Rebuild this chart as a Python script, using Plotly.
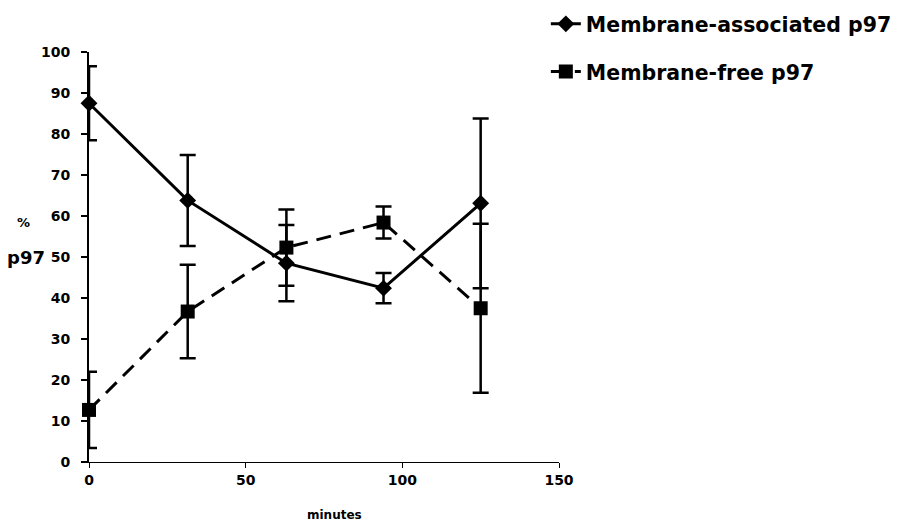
import plotly.graph_objects as go

minutes = [0, 31.5, 63, 94, 125]
assoc = [87.5, 63.8, 48.5, 42.4, 63.1]
assoc_err = [9.0, 11.1, 9.3, 3.7, 20.7]
free = [12.7, 36.7, 52.3, 58.4, 37.5]
free_err = [9.3, 11.4, 9.3, 3.9, 20.6]

x_ticks = [0, 50, 100, 150]
y_ticks = list(range(0, 101, 10))

FONT = "DejaVu Sans"

fig = go.Figure()
fig.add_trace(go.Scatter(
    x=minutes, y=assoc, name="Membrane-associated p97",
    mode="lines+markers", legendgroup="a",
    line=dict(color="black", width=3),
    marker=dict(symbol="diamond", size=13, color="black"),
    error_y=dict(type="data", array=assoc_err, color="black", thickness=2.5, width=8),
    cliponaxis=False,
))
fig.add_trace(go.Scatter(
    x=minutes, y=free, name="Membrane-free p97",
    mode="lines+markers", legendgroup="b",
    line=dict(color="black", width=3, dash="15px,9px"),
    marker=dict(symbol="square", size=14, color="black"),
    error_y=dict(type="data", array=free_err, color="black", thickness=2.5, width=8),
    cliponaxis=False,
))

# the page body adds an 8px offset, so the figure is 895x523
fig.update_layout(
    width=895, height=523,
    margin=dict(l=81, r=344, t=44, b=69, autoexpand=False),
    paper_bgcolor="white", plot_bgcolor="white",
    font=dict(family=FONT, color="black"),
    showlegend=True,
    legend=dict(
        x=0.972, xanchor="left", y=1.117, yanchor="top",
        font=dict(family=FONT, size=20.5, color="black", weight="bold"),
        traceorder="grouped", tracegroupgap=18,
        bgcolor="rgba(0,0,0,0)",
    ),
    xaxis=dict(
        range=[0, 150], tickvals=x_ticks, ticktext=[str(v) for v in x_ticks],
        showgrid=False, zeroline=False, showline=True, linecolor="black", linewidth=1,
        ticks="outside", ticklen=5, tickwidth=1, tickcolor="black",
        tickfont=dict(family=FONT, size=14, weight="bold"),
        ticklabelstandoff=0, automargin=False,
    ),
    xaxis2=dict(
        range=[0, 150], overlaying="x", tickvals=x_ticks, showticklabels=False,
        showgrid=False, zeroline=False, showline=False,
        ticks="inside", ticklen=6, tickwidth=1, tickcolor="black",
    ),
    yaxis=dict(
        range=[0, 100], tickvals=y_ticks, ticktext=[str(v) for v in y_ticks],
        showgrid=False, zeroline=False, showline=True, linecolor="black", linewidth=2,
        ticks="outside", ticklen=6, tickwidth=1.5, tickcolor="black",
        tickfont=dict(family=FONT, size=14, weight="bold"),
        ticklabelstandoff=8, automargin=False,
    ),
    yaxis2=dict(
        range=[0, 100], overlaying="y", tickvals=y_ticks, showticklabels=False,
        showgrid=False, zeroline=False, showline=False,
        ticks="inside", ticklen=7, tickwidth=1.5, tickcolor="black",
    ),
    annotations=[
        dict(text="%", xref="paper", yref="paper", x=0, y=0.585, xshift=-66,
             xanchor="center", yanchor="middle", showarrow=False,
             font=dict(family=FONT, size=13, weight="bold")),
        dict(text="p97", xref="paper", yref="paper", x=0, y=0.5, xshift=-63,
             xanchor="center", yanchor="middle", showarrow=False,
             font=dict(family=FONT, size=18, weight="bold")),
        dict(text="minutes", xref="paper", yref="paper", x=0.523, y=0, yshift=-53,
             xanchor="center", yanchor="middle", showarrow=False,
             font=dict(family=FONT, size=12, weight="bold")),
    ],
)

fig.write_html("out.html")
